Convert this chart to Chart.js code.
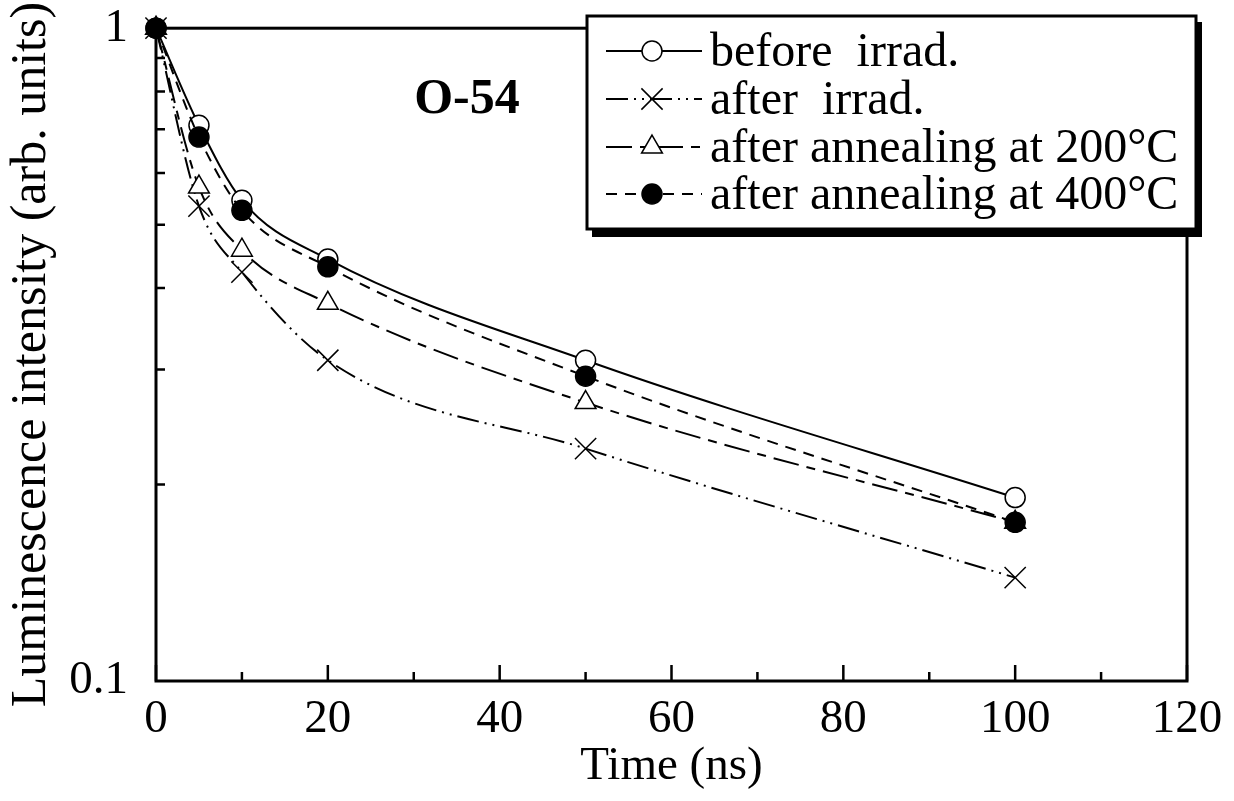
<!DOCTYPE html>
<html><head><meta charset="utf-8">
<script src="https://cdn.jsdelivr.net/npm/chart.js@4.4.1/dist/chart.umd.min.js"></script>
<style>html,body{margin:0;padding:0;background:#fff}#wrap{width:1234px;height:801px}</style>
</head><body><div id="wrap"><canvas id="c" width="1234" height="801"></canvas></div>
<script>
// ---- data ----
const times = [0, 5, 10, 20, 50, 100];
const beforeIrrad = [1, 0.710, 0.545, 0.443, 0.310, 0.191];
const afterIrrad = [1, 0.534, 0.423, 0.310, 0.227, 0.144];
const anneal200 = [1, 0.571, 0.457, 0.379, 0.267, 0.175];
const anneal400 = [1, 0.681, 0.526, 0.431, 0.293, 0.175];
const seriesLabels = ['before  irrad.', 'after  irrad.', 'after annealing at 200°C', 'after annealing at 400°C'];
const xTickValues = [0, 20, 40, 60, 80, 100, 120];
const xMinorValues = [10, 30, 50, 70, 90, 110];
const yTickValues = [0.1, 1];
const yMinorValues = [0.2, 0.3, 0.4, 0.5, 0.6, 0.7, 0.8, 0.9];
const sampleName = 'O-54';
const xTitle = 'Time (ns)';
const yTitle = 'Luminescence intensity (arb. units)';

const FONT = "'Liberation Serif', 'Times New Roman', serif";
const pts = arr => times.map((t, i) => ({x: t, y: arr[i]}));

const datasets = [
  {label: seriesLabels[0], data: pts(beforeIrrad), borderDash: [], pointStyle: 'circle', pointRadius: 10,
   pointBackgroundColor: '#fff', order: 1},
  {label: seriesLabels[1], data: pts(afterIrrad), borderDash: [22, 6, 2, 6, 2, 6], pointStyle: 'crossRot', pointRadius: 15,
   pointBackgroundColor: '#fff', order: 3},
  {label: seriesLabels[2], data: pts(anneal200), borderDash: [26, 8, 9, 8], pointStyle: 'triangle', pointRadius: 12,
   pointBackgroundColor: '#fff', order: 2},
  {label: seriesLabels[3], data: pts(anneal400), borderDash: [11, 8], pointStyle: 'circle', pointRadius: 10,
   pointBackgroundColor: '#000', order: 0}
].map(d => Object.assign({
  borderColor: '#000', borderWidth: 2, pointBorderColor: '#000', pointBorderWidth: 1.5,
  cubicInterpolationMode: 'monotone', clip: false, fill: false
}, d));

const decorPlugin = {
  id: 'decor',
  beforeDatasetsDraw(chart) {
    const {ctx, chartArea: a, scales: {x, y}} = chart;
    ctx.save();
    ctx.strokeStyle = '#000';
    ctx.lineWidth = 3;
    ctx.strokeRect(a.left, a.top, a.right - a.left, a.bottom - a.top);
    ctx.lineWidth = 2.5;
    ctx.beginPath();
    xTickValues.forEach(v => { const px = x.getPixelForValue(v); ctx.moveTo(px, a.bottom); ctx.lineTo(px, a.bottom - 16); });
    xMinorValues.forEach(v => { const px = x.getPixelForValue(v); ctx.moveTo(px, a.bottom); ctx.lineTo(px, a.bottom - 9); });
    yMinorValues.forEach(v => { const py = y.getPixelForValue(v); ctx.moveTo(a.left, py); ctx.lineTo(a.left + 9, py); });
    ctx.stroke();
    ctx.restore();
  },
  afterDatasetsDraw(chart) {
    const {ctx} = chart;
    ctx.save();
    // sample name
    ctx.fillStyle = '#000';
    ctx.font = "bold 50px " + FONT;
    ctx.textAlign = 'center';
    ctx.textBaseline = 'middle';
    ctx.fillText(sampleName, 467, 100);
    // legend box with shadow
    const bx = 587, by = 16, bw = 609, bh = 213;
    ctx.fillStyle = '#000';
    ctx.fillRect(bx + 5, by + 6, bw + 1, bh + 2);
    ctx.fillStyle = '#fff';
    ctx.fillRect(bx, by, bw, bh);
    ctx.strokeStyle = '#000';
    ctx.lineWidth = 3;
    ctx.strokeRect(bx, by, bw, bh);
    const rows = [51, 99, 147, 194];
    chart.data.datasets.forEach((ds, i) => {
      const ry = rows[i];
      ctx.save();
      ctx.strokeStyle = '#000';
      ctx.lineWidth = 2;
      ctx.setLineDash(ds.borderDash);
      ctx.beginPath();
      ctx.moveTo(606, ry);
      ctx.lineTo(702, ry);
      ctx.stroke();
      ctx.setLineDash([]);
      ctx.fillStyle = ds.pointBackgroundColor;
      ctx.strokeStyle = '#000';
      ctx.lineWidth = 1.5;
      Chart.helpers.drawPoint(ctx, {pointStyle: ds.pointStyle, radius: ds.pointRadius, borderWidth: 1.5, rotation: 0}, 652, ry);
      ctx.restore();
      ctx.fillStyle = '#000';
      ctx.font = "48px " + FONT;
      ctx.textAlign = 'left';
      ctx.textBaseline = 'middle';
      ctx.fillText(ds.label, 710, ry + 2);
    });
    ctx.restore();
  }
};

new Chart(document.getElementById('c'), {
  type: 'line',
  data: {datasets},
  plugins: [decorPlugin],
  options: {
    responsive: false,
    animation: false,
    devicePixelRatio: 1,
    layout: {padding: {top: 0, right: 47, left: 0, bottom: 0}},
    plugins: {legend: {display: false}, tooltip: {enabled: false}},
    scales: {
      x: {
        type: 'linear', min: 0, max: 120,
        afterBuildTicks: s => { s.ticks = xTickValues.map(v => ({value: v})); },
        afterFit: s => { s.height = 120; },
        grid: {display: false, drawTicks: false},
        border: {display: false},
        ticks: {font: {family: FONT, size: 47}, color: '#000', padding: 10, maxRotation: 0, autoSkip: false},
        title: {display: true, text: xTitle, font: {family: FONT, size: 47}, color: '#000', padding: {top: 0, bottom: 6}}
      },
      y: {
        type: 'logarithmic', min: 0.1, max: 1,
        afterBuildTicks: s => { s.ticks = yTickValues.map(v => ({value: v})); },
        afterFit: s => { s.width = 156; },
        grid: {display: true, drawOnChartArea: false, drawTicks: true, tickLength: 28, color: 'rgba(0,0,0,0)'},
        border: {display: false},
        ticks: {font: {family: FONT, size: 47}, color: '#000', padding: 0,
                callback: v => String(v)},
        title: {display: true, text: yTitle, font: {family: FONT, size: 50}, color: '#000', padding: {top: 2, bottom: 0}}
      }
    }
  }
});
</script>
</body></html>
